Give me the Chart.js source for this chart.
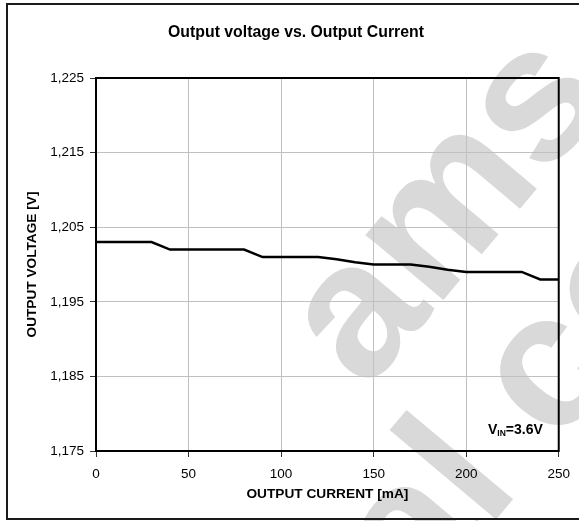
<!DOCTYPE html>
<html><head><meta charset="utf-8">
<script src="https://cdn.jsdelivr.net/npm/chart.js@4"></script>
<style>html,body{margin:0;padding:0;background:#fff;overflow:hidden}
#wrap{position:relative;width:579px;height:521px}
</style></head><body><div id="wrap"><canvas id="c" width="579" height="521"></canvas></div>
<script>
// ---- data ----
const chartTitle = 'Output voltage vs. Output Current';
const xTitle = 'OUTPUT CURRENT [mA]';
const yTitle = 'OUTPUT VOLTAGE [V]';
const currentMA = [0,10,20,30,40,50,60,70,80,90,100,110,120,130,140,150,160,170,180,190,200,210,220,230,240,250];
const voltageV  = [1.203,1.203,1.203,1.203,1.202,1.202,1.202,1.202,1.202,1.201,1.201,1.201,1.201,1.2007,1.2003,1.200,1.200,1.200,1.1997,1.1993,1.199,1.199,1.199,1.199,1.198,1.198];
const yTicks = [1.175,1.185,1.195,1.205,1.215,1.225];
const xTicks = [0,50,100,150,200,250];
const noteMain = 'V', noteSub = 'IN', noteRest = '=3.6V';
const watermarkLines = ['ams AG', 'Technical content still valid'];

// ---- fonts ----
const NARROW = "'Liberation Sans Narrow','Arial Narrow','Liberation Sans',Arial,sans-serif";
const SANS = "'Liberation Sans',Arial,sans-serif";
const mctx = document.createElement('canvas').getContext('2d');
function fitSize(text, family, target){ mctx.font = 'bold 100px ' + family; return 100*target/mctx.measureText(text).width; }
const titleSize = fitSize(chartTitle, NARROW, 256);
const xTitleSize = fitSize(xTitle, NARROW, 162);
const yTitleSize = fitSize(yTitle, NARROW, 146);

const bgPlugin = {
  id:'bg',
  beforeDraw(chart){
    const ctx = chart.ctx;
    ctx.save();
    ctx.fillStyle = '#fff'; ctx.fillRect(0,0,chart.width,chart.height);
    // watermark
    ctx.fillStyle = '#d9d9d9';
    ctx.font = 'bold 192px ' + SANS;
    ctx.textBaseline = 'alphabetic';
    const ang = -50*Math.PI/180;
    ctx.save(); ctx.translate(366,392); ctx.rotate(ang); ctx.fillText(watermarkLines[0],0,0); ctx.restore();
    const pre = ctx.measureText('Technical ').width;
    ctx.save(); ctx.translate(556,448); ctx.rotate(ang); ctx.fillText(watermarkLines[1],-pre,0); ctx.restore();
    ctx.restore();
  },
  afterDraw(chart){
    const ctx = chart.ctx, a = chart.chartArea;
    ctx.save();
    ctx.strokeStyle = '#000'; ctx.lineWidth = 2;
    ctx.strokeRect(a.left, a.top, a.right-a.left, a.bottom-a.top);
    ctx.strokeStyle = '#1a1a1a'; ctx.lineWidth = 2;
    ctx.strokeRect(7, 4, 700, 515);
    // annotation
    ctx.fillStyle = '#000'; ctx.textBaseline = 'alphabetic';
    let x = 488; const y = 434;
    ctx.font = 'bold 14px ' + SANS; ctx.fillText(noteMain, x, y); x += ctx.measureText(noteMain).width;
    ctx.font = 'bold 8.5px ' + SANS; ctx.fillText(noteSub, x, y+2); x += ctx.measureText(noteSub).width;
    ctx.font = 'bold 14px ' + SANS; ctx.fillText(noteRest, x, y);
    ctx.restore();
  }
};

new Chart(document.getElementById('c'), {
  type:'line',
  data:{ datasets:[{ data: currentMA.map((c,i)=>({x:c, y:voltageV[i]})), borderColor:'#000', borderWidth:2.5, pointRadius:0, tension:0, fill:false }]},
  options:{
    responsive:false, animation:false, devicePixelRatio:1,
    layout:{ padding:{ left:13, right:0, top:0, bottom:0 } },
    plugins:{
      legend:{display:false}, tooltip:{enabled:false},
      title:{ display:true, text:chartTitle, color:'#000',
        font:{ family:NARROW, size:titleSize, weight:'bold', lineHeight:1.2 },
        padding:{ top:33 - titleSize*0.6, bottom:78 - 33 - titleSize*0.6 } }
    },
    scales:{
      x:{ type:'linear', min:0, max:250,
        afterBuildTicks(s){ s.ticks = xTicks.map(v=>({value:v})); },
        afterFit(s){ s.height = 70; },
        grid:{ color:'#c0c0c0', lineWidth:1, tickLength:6, tickColor:'#333', drawTicks:true },
        border:{ display:false },
        ticks:{ color:'#000', font:{ family:SANS, size:13.5 }, padding:9, maxRotation:0 },
        title:{ display:true, text:xTitle, color:'#000', font:{ family:NARROW, size:xTitleSize, weight:'bold', lineHeight:1.2 }, padding:{ top:0, bottom:26.5 - xTitleSize*0.6 } }
      },
      y:{ type:'linear', min:1.175, max:1.225,
        afterBuildTicks(s){ s.ticks = yTicks.map(v=>({value:v})); },
        afterFit(s){ s.width = 83; },
        grid:{ color:'#c0c0c0', lineWidth:1, tickLength:6, tickColor:'#333', drawTicks:true },
        border:{ display:false },
        ticks:{ color:'#000', font:{ family:SANS, size:13.5 }, padding:6, callback:v=>v.toFixed(3).replace('.',',') },
        title:{ display:true, text:yTitle, color:'#000', font:{ family:NARROW, size:yTitleSize, weight:'bold', lineHeight:1.2 }, padding:{ top:19.4 - yTitleSize*0.6, bottom:0 } }
      },
      y2:{ position:'right', display:true, min:0, max:1,
        afterFit(s){ s.width = 18; },
        grid:{ display:false, drawTicks:false }, border:{ display:false }, ticks:{ display:false } }
    }
  },
  plugins:[bgPlugin]
});
</script></body></html>
